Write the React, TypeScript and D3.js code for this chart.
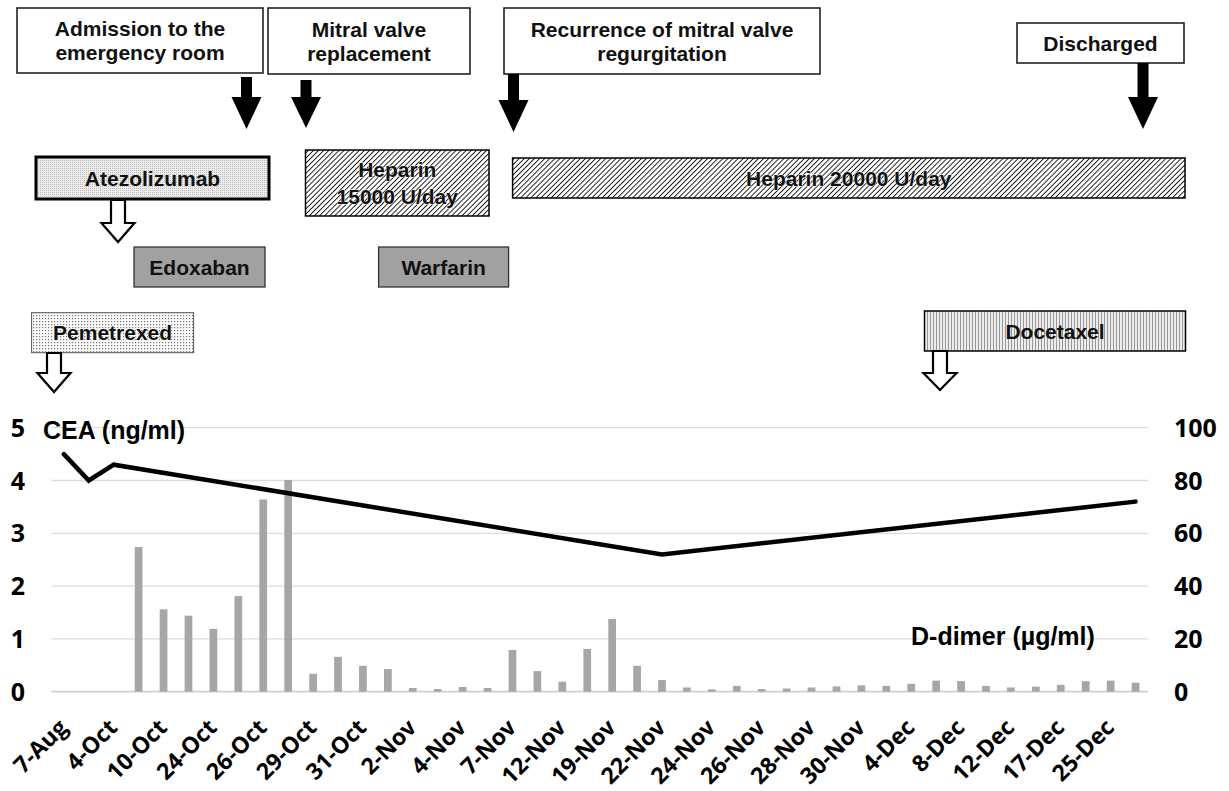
import React from 'react';
import * as d3 from 'd3';

// ---------------- data ----------------
const tickLabels = ['7-Aug', '4-Oct', '10-Oct', '24-Oct', '26-Oct', '29-Oct', '31-Oct', '2-Nov', '4-Nov', '7-Nov', '12-Nov', '19-Nov', '22-Nov', '24-Nov', '26-Nov', '28-Nov', '30-Nov', '4-Dec', '8-Dec', '12-Dec', '17-Dec', '25-Dec'];

// D-dimer (left axis, 0-5), one value per measurement day (44 days)
const dDimer: (number | null)[] = [
  null, null, null, 2.74, 1.56, 1.44, 1.19, 1.81, 3.64, 4.01,
  0.34, 0.66, 0.49, 0.43, 0.07, 0.05, 0.09, 0.07, 0.79, 0.39,
  0.19, 0.81, 1.38, 0.49, 0.22, 0.08, 0.045, 0.11, 0.05, 0.06,
  0.08, 0.10, 0.12, 0.11, 0.15, 0.21, 0.20, 0.11, 0.08, 0.095,
  0.13, 0.20, 0.21, 0.17,
];

// CEA (right axis, 0-100), measured on few days only
const cea: (number | null)[] = [
  90, 80, 86, null, null, null, null, null, null, null,
  null, null, null, null, null, null, null, null, null, null,
  null, null, null, null, 52, null, null, null, null, null,
  null, null, null, null, null, null, null, null, null, null,
  null, null, null, 72,
];

const leftTicks = [0, 1, 2, 3, 4, 5];
const rightTicks = [0, 20, 40, 60, 80, 100];

const eventLabels = [
  ['Admission to the', 'emergency room'],
  ['Mitral valve', 'replacement'],
  ['Recurrence of mitral valve', 'regurgitation'],
  ['Discharged'],
];

const treatmentLabels = [
  ['Atezolizumab'],
  ['Heparin', '15000 U/day'],
  ['Heparin 20000 U/day'],
  ['Edoxaban'],
  ['Warfarin'],
  ['Pemetrexed'],
  ['Docetaxel'],
];

// ---------------- layout (annotation geometry) ----------------
const eventBoxes = [
  { x: 17, y: 8, w: 246, h: 65 },
  { x: 268, y: 8, w: 202, h: 66 },
  { x: 504, y: 8, w: 316, h: 66 },
  { x: 1017, y: 23, w: 167, h: 40 },
];
const eventArrows = [
  { cx: 246.5, top: 77, headTop: 97, tip: 129 },
  { cx: 306, top: 80, headTop: 97, tip: 128 },
  { cx: 513.5, top: 74, headTop: 100, tip: 132 },
  { cx: 1143, top: 63, headTop: 97, tip: 129 },
];
const treatmentBoxes = [
  { x: 36, y: 157, w: 233, h: 42, fill: 'url(#fineDots)', stroke: '#000', sw: 3, halo: false },
  { x: 305.5, y: 150, w: 183.5, h: 66, fill: 'url(#hatch)', stroke: '#000', sw: 1.5, halo: true },
  { x: 512.6, y: 158, w: 672.4, h: 40, fill: 'url(#hatch)', stroke: '#000', sw: 1.5, halo: true },
  { x: 134, y: 247, w: 131, h: 40, fill: '#a1a1a1', stroke: '#333', sw: 1.3, halo: false },
  { x: 378.6, y: 247, w: 130, h: 40, fill: '#a1a1a1', stroke: '#333', sw: 1.3, halo: false },
  { x: 31.6, y: 312.7, w: 162, h: 40, fill: 'url(#dots)', stroke: '#555', sw: 1, halo: true },
  { x: 924.5, y: 311, w: 261, h: 40, fill: 'url(#vlines)', stroke: '#000', sw: 1.5, halo: false },
];
const hollowArrows = [
  { cx: 118, top: 200, headTop: 223, tip: 242 },
  { cx: 54, top: 353, headTop: 373, tip: 392 },
  { cx: 940, top: 351, headTop: 373, tip: 390 },
];

const plot = { left: 51.4, right: 1148, top: 427.7, bottom: 691.7 };

const boxFont = '"Liberation Sans", Arial, sans-serif';
const axisFont = '"Open Sans", "Liberation Sans", sans-serif';

function arrowPath(cx: number, top: number, headTop: number, tip: number, sw: number, hw: number) {
  const p = d3.path();
  p.moveTo(cx - sw / 2, top);
  p.lineTo(cx + sw / 2, top);
  p.lineTo(cx + sw / 2, headTop);
  p.lineTo(cx + hw / 2, headTop);
  p.lineTo(cx, tip);
  p.lineTo(cx - hw / 2, headTop);
  p.lineTo(cx - sw / 2, headTop);
  p.closePath();
  return p.toString();
}

export default function App() {
  const idx = d3.range(dDimer.length);
  const x = d3.scaleBand<number>().domain(idx).range([plot.left, plot.right]);
  const xBar = d3.scaleBand<number>().domain(idx).range([plot.left, plot.right]).paddingInner(0.69).paddingOuter(0.345);
  const yL = d3.scaleLinear().domain([0, 5]).range([plot.bottom, plot.top]);
  const yR = d3.scaleLinear().domain([0, 100]).range([plot.bottom, plot.top]);

  const ceaPts = cea.map((v, i) => ({ i, v })).filter((d) => d.v != null) as { i: number; v: number }[];
  const line = d3.line<{ i: number; v: number }>()
    .x((d) => (x(d.i) as number) + x.bandwidth() / 2)
    .y((d) => yR(d.v));

  const labelIdx = tickLabels.map((_, k) => k * 2);

  return (
    <div style={{ position: 'absolute', left: 0, top: 0, background: '#fff' }}>
      <svg width={1229} height={791} viewBox="0 0 1229 791" style={{ display: 'block', background: '#fff' }}>
        <defs>
          <pattern id="hatch" patternUnits="userSpaceOnUse" width="3.6" height="3.6" patternTransform="rotate(45)">
            <rect width="3.6" height="3.6" fill="#fff" />
            <line x1="0" y1="0" x2="0" y2="3.6" stroke="#000" strokeWidth="1.7" />
          </pattern>
          <pattern id="fineDots" patternUnits="userSpaceOnUse" width="2" height="2">
            <rect width="2" height="2" fill="#ececec" />
            <rect width="1" height="1" fill="#bdbdbd" />
          </pattern>
          <pattern id="dots" patternUnits="userSpaceOnUse" width="3" height="3">
            <rect width="3" height="3" fill="#fafafa" />
            <rect width="1.2" height="1.2" fill="#777" />
          </pattern>
          <pattern id="vlines" patternUnits="userSpaceOnUse" width="3" height="3">
            <rect width="3" height="3" fill="#ececec" />
            <rect width="1" height="3" fill="#9a9a9a" />
          </pattern>
        </defs>

        {/* event boxes */}
        {eventBoxes.map((b, k) => {
          const lines = eventLabels[k];
          const lh = 24;
          const cy = b.y + b.h / 2;
          const first = cy - ((lines.length - 1) * lh) / 2 + 7.5;
          return (
            <g key={'ev' + k}>
              <rect x={b.x} y={b.y} width={b.w} height={b.h} fill="#fff" stroke="#222" strokeWidth={1.6} />
              {lines.map((t, j) => (
                <text key={j} x={b.x + b.w / 2} y={first + j * lh} textAnchor="middle" fontFamily={boxFont}
                  fontWeight="bold" fontSize={21} fill="#111">{t}</text>
              ))}
            </g>
          );
        })}
        {eventArrows.map((a, k) => (
          <path key={'ea' + k} d={arrowPath(a.cx, a.top, a.headTop, a.tip, 11, 30)} fill="#000" />
        ))}

        {/* treatment boxes */}
        {treatmentBoxes.map((b, k) => {
          const lines = treatmentLabels[k];
          const lh = 27;
          const cy = b.y + b.h / 2;
          const first = cy - ((lines.length - 1) * lh) / 2 + 7.5;
          return (
            <g key={'tr' + k}>
              <rect x={b.x} y={b.y} width={b.w} height={b.h} fill={b.fill} stroke={b.stroke} strokeWidth={b.sw} />
              {lines.map((t, j) => (
                <text key={j} x={b.x + b.w / 2} y={first + j * lh} textAnchor="middle" fontFamily={boxFont}
                  fontWeight="bold" fontSize={21} fill="#111"
                  stroke={b.halo ? '#fff' : 'none'} strokeWidth={b.halo ? 0.9 : 0}
                  style={{ paintOrder: 'stroke' }}>{t}</text>
              ))}
            </g>
          );
        })}
        {hollowArrows.map((a, k) => (
          <path key={'ha' + k} d={arrowPath(a.cx, a.top, a.headTop, a.tip, 14, 33)} fill="#fff" stroke="#000" strokeWidth={2.2} strokeLinejoin="miter" />
        ))}

        {/* gridlines */}
        {leftTicks.map((t) => (
          <line key={'g' + t} x1={plot.left} x2={plot.right} y1={yL(t)} y2={yL(t)}
            stroke={t === 0 ? '#cfcfcf' : '#dcdcdc'} strokeWidth={t === 0 ? 1.8 : 1.3} />
        ))}

        {/* D-dimer bars */}
        {dDimer.map((v, i) => v == null ? null : (
          <rect key={'b' + i} x={xBar(i)} y={yL(v)} width={xBar.bandwidth()} height={yL(0) - yL(v)} fill="#a6a6a6" />
        ))}

        {/* CEA line */}
        <path d={line(ceaPts) || ''} fill="none" stroke="#000" strokeWidth={4.5} strokeLinejoin="miter" strokeLinecap="round" />

        {/* left axis labels */}
        {leftTicks.map((t) => (
          <text key={'l' + t} x={25} y={yL(t) + 9} textAnchor="end" fontFamily={axisFont} fontWeight={700}
            fontSize={25} fill="#000">{t}</text>
        ))}
        {/* right axis labels */}
        {rightTicks.map((t) => (
          <text key={'r' + t} x={1174} y={yR(t) + 9} textAnchor="start" fontFamily={axisFont} fontWeight={700}
            fontSize={25} fill="#000">{t}</text>
        ))}

        {/* x labels */}
        {labelIdx.map((i, k) => {
          const cx = (x(i) as number) + x.bandwidth() / 2 + 5;
          return (
            <text key={'x' + k} transform={`translate(${cx},${729}) rotate(-45)`} textAnchor="end"
              fontFamily={axisFont} fontWeight={700} fontSize={23} fill="#000">{tickLabels[k]}</text>
          );
        })}

        {/* series titles */}
        <text x={43} y={438.5} fontFamily={boxFont} fontWeight="bold" fontSize={25} fill="#000">CEA (ng/ml)</text>
        <text x={911} y={645} fontFamily={boxFont} fontWeight="bold" fontSize={25} fill="#000">D-dimer (µg/ml)</text>
      </svg>
    </div>
  );
}
